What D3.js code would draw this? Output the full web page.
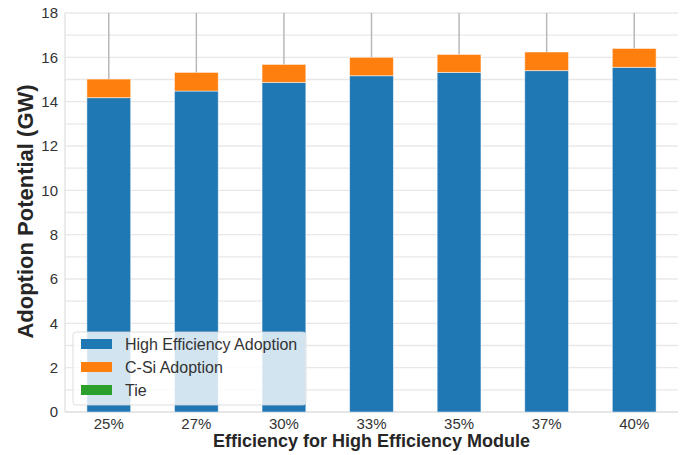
<!DOCTYPE html>
<html>
<head>
<meta charset="utf-8">
<script src="https://cdn.jsdelivr.net/npm/d3@7"></script>
<style>
  html, body { margin: 0; padding: 0; background: #fff; }
  svg { display: block; font-family: "Liberation Sans", Arial, sans-serif; }
</style>
</head>
<body>
<svg id="chart" width="683" height="455"></svg>
<script>
// Module efficiency scenarios
const categories = ["25%", "27%", "30%", "33%", "35%", "37%", "40%"];
// Stacked adoption (GW)
const highEffAdoption = [14.18, 14.48, 14.87, 15.17, 15.32, 15.40, 15.55];
const csiAdoption     = [0.84, 0.84, 0.81, 0.83, 0.81, 0.84, 0.85];
const tieAdoption     = [0, 0, 0, 0, 0, 0, 0];
// Upper uncertainty on the stack total
const errUpper        = [4, 4, 4, 4, 4, 4, 4];
const yTicks = [0, 2, 4, 6, 8, 10, 12, 14, 16, 18];
const yGrid  = [0, 1, 2, 3, 4, 5, 6, 7, 8, 9, 10, 11, 12, 13, 14, 15, 16, 17, 18];

const seriesNames  = ["High Efficiency Adoption", "C-Si Adoption", "Tie"];
const seriesColors = ["#1f77b4", "#ff7f0e", "#2ca02c"];

const svg = d3.select("#chart");
const W = 683, H = 455;
const m = { left: 65, right: 5, top: 13, bottom: 43 };
const pw = W - m.left - m.right, ph = H - m.top - m.bottom;

const x = d3.scaleBand().domain(categories).range([m.left, m.left + pw]).paddingInner(0.5).paddingOuter(0.25);
const y = d3.scaleLinear().domain([0, 18]).range([m.top + ph, m.top]);

const rows = categories.map((c, i) => ({
  cat: c, high: highEffAdoption[i], csi: csiAdoption[i], tie: tieAdoption[i], err: errUpper[i]
}));
const stack = d3.stack().keys(["high", "csi", "tie"])(rows);

svg.append("defs").append("clipPath").attr("id", "plotClip")
  .append("rect").attr("x", m.left).attr("y", m.top).attr("width", pw).attr("height", ph);

// grid
svg.append("g").selectAll("line").data(yGrid).join("line")
  .attr("x1", m.left).attr("x2", m.left + pw)
  .attr("y1", d => y(d)).attr("y2", d => y(d))
  .attr("stroke", "#e8e8e8").attr("stroke-width", 1.4);

// spines (left, bottom)
svg.append("line").attr("x1", m.left).attr("x2", m.left).attr("y1", m.top).attr("y2", m.top + ph)
  .attr("stroke", "#e3e3e3").attr("stroke-width", 1.4);
svg.append("line").attr("x1", m.left).attr("x2", m.left + pw).attr("y1", m.top + ph).attr("y2", m.top + ph)
  .attr("stroke", "#e3e3e3").attr("stroke-width", 1.4);

// stacked bars
const plot = svg.append("g").attr("clip-path", "url(#plotClip)");
stack.forEach((layer, k) => {
  plot.append("g").selectAll("rect").data(layer).join("rect")
    .attr("x", d => x(d.data.cat))
    .attr("width", x.bandwidth())
    .attr("y", d => y(d[1]))
    .attr("height", d => y(d[0]) - y(d[1]))
    .attr("fill", seriesColors[k])
    .attr("stroke", d => (d[1] - d[0]) > 0 ? "#ffffff" : "none")
    .attr("stroke-opacity", 0.55)
    .attr("stroke-width", 0.9);
});

// error bars on the stack total
plot.append("g").selectAll("line").data(rows).join("line")
  .attr("x1", d => x(d.cat) + x.bandwidth() / 2)
  .attr("x2", d => x(d.cat) + x.bandwidth() / 2)
  .attr("y1", d => y(d.high + d.csi + d.tie))
  .attr("y2", d => y(d.high + d.csi + d.tie + d.err))
  .attr("stroke", "#b8b8b8").attr("stroke-width", 1.5);

// axes
const yAxis = svg.append("g").attr("transform", `translate(${m.left},0)`)
  .call(d3.axisLeft(y).tickValues(yTicks).tickSize(0).tickPadding(7));
const xAxis = svg.append("g").attr("transform", `translate(0,${m.top + ph})`)
  .call(d3.axisBottom(x).tickSize(0).tickPadding(6));
[yAxis, xAxis].forEach(a => {
  a.select(".domain").remove();
  a.selectAll("text").attr("fill", "#333333").attr("font-size", "15px")
    .attr("font-family", "'Liberation Sans', Arial, sans-serif");
});

// axis titles
svg.append("text")
  .attr("x", m.left + pw / 2).attr("y", 447)
  .attr("text-anchor", "middle").attr("font-weight", "bold").attr("font-size", "18px")
  .attr("fill", "#262626").text("Efficiency for High Efficiency Module");
svg.append("text")
  .attr("transform", `translate(33,${m.top + ph / 2 - 1}) rotate(-90)`)
  .attr("text-anchor", "middle").attr("font-weight", "bold").attr("font-size", "22px")
  .attr("fill", "#262626").text("Adoption Potential (GW)");

// legend
const lg = svg.append("g").attr("transform", "translate(73,332)");
lg.append("rect").attr("x", 0).attr("y", 0).attr("width", 233).attr("height", 73)
  .attr("rx", 3).attr("fill", "#ffffff").attr("fill-opacity", 0.8)
  .attr("stroke", "#d6d6d6").attr("stroke-opacity", 0.8).attr("stroke-width", 1);
seriesNames.forEach((name, i) => {
  const cy = 12 + i * 23;
  lg.append("rect").attr("x", 8).attr("y", cy - 5).attr("width", 31).attr("height", 10)
    .attr("fill", seriesColors[i]);
  lg.append("text").attr("x", 52).attr("y", cy).attr("dy", "0.35em")
    .attr("font-size", "16px").attr("fill", "#333333").text(name);
});
</script>
</body>
</html>
